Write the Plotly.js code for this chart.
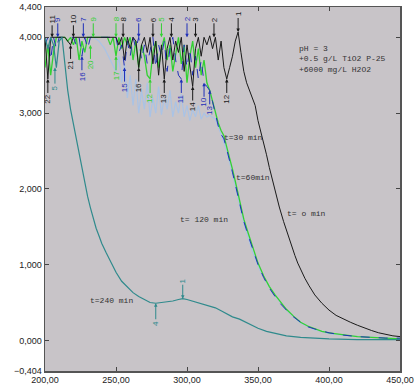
<!DOCTYPE html>
<html>
<head>
<meta charset="utf-8">
<script src="https://cdn.plot.ly/plotly-3.0.1.min.js"></script>
<style>html,body{margin:0;padding:0;background:#fff;}#chart{width:420px;height:390px;}</style>
</head>
<body>
<div id="chart"></div>
<script>
// ---- Data (wavelength nm, absorbance) ----
const wlNoisy = [200,202,204,206,208,210,212,214,216,218,220,222,224,226,228,230,232,234,236,238,240,242,244,246,248,250,252,254,256,258,260,262,264,266,268,270,272,274,276,278,280,282,284,286,288,290,292,294,296,298,300,302,304,306,308,310,312,314,316,318];
const wlTail = [320,322,324,326,328,330,332,334,336,338,340,343,346,350,354,358,362,366,370,375,380,385,390,395,400,410,420,430,440,450];

// t = 0 min (black)
const t0X = [200,202,204,206,210,214,218,220,224,230,236,240,244,248,
  250,252,254,256,258,260,262,264,266,268,270,272,274,276,278,280,282,284,286,288,290,292,294,296,298,300,302,304,306,308,310,312,314,316,318,320,322,324,326,328,330,332,334,336,338,
  340,342,344,346,348,350,352,354,356,358,360,362,365,368,370,373,376,378,380,383,386,390,395,400,405,410,415,420,425,430,435,440,445,450];
const t0Y = [4.0,3.45,4.0,4.0,4.0,4.0,3.9,4.0,4.0,4.0,4.0,4.0,4.0,4.0,
  4.0,3.9,4.0,3.7,4.0,3.85,4.0,3.95,3.6,3.9,4.0,3.8,4.0,3.65,3.95,3.5,3.9,3.45,3.85,4.0,3.7,3.95,3.8,4.0,3.55,3.9,3.6,3.35,3.85,4.0,3.75,4.0,3.9,4.02,3.85,4.0,3.7,3.95,3.6,3.45,3.6,3.75,3.95,4.07,3.8,
  3.55,3.4,3.3,3.22,3.1,2.9,2.76,2.62,2.45,2.28,2.12,1.97,1.76,1.57,1.45,1.28,1.12,1.02,0.93,0.82,0.72,0.6,0.49,0.4,0.33,0.28,0.24,0.2,0.16,0.13,0.1,0.08,0.06,0.05];

// t = 30 min (green)
const t30Noisy = [3.6,3.9,3.5,3.8,4.0,4.0,4.0,4.0,3.95,4.0, 3.9,4.0,3.7,3.95,3.8,4.0,4.0,4.0,4.0,4.0,
  4.0,4.0,4.0,3.9,4.0,3.75,4.0,3.85,4.0,3.9, 4.0,3.7,3.95,3.6,3.9,3.75,3.5,3.45,3.8,3.95,
  3.6,3.85,4.0,3.7,3.9,3.55,3.8,4.0,3.65,3.9, 3.4,3.75,3.95,3.6,3.85,3.5,3.7,3.4,3.3,3.15];
const t30Tail = [3.0,2.87,2.77,2.7,2.55,2.42,2.26,2.1,1.94,1.78,1.6,1.42,1.24,1.02,0.85,0.71,0.6,0.5,0.41,0.32,0.24,0.19,0.15,0.12,0.1,0.07,0.05,0.04,0.03,0.02];

// t = 60 min (dark blue)
const t60Noisy = [3.9,4.0,3.7,4.0,3.85,4.0,4.0,4.0,4.0,4.0, 4.0,3.9,4.0,3.75,4.0,3.85,4.0,4.0,4.0,4.0,
  4.0,4.0,4.0,4.0,3.95,4.0,3.8,3.9,3.6,3.95, 3.75,4.0,3.85,4.0,3.7,3.9,3.65,3.85,4.0,3.6,
  3.9,3.75,3.95,3.55,3.85,4.0,3.7,3.5,3.45,3.9, 3.6,3.85,3.5,3.75,3.45,3.7,3.4,3.35,3.3,3.15];
const t60Tail = [2.97,2.83,2.72,2.66,2.52,2.38,2.22,2.06,1.9,1.74,1.57,1.39,1.21,1.0,0.83,0.69,0.58,0.48,0.4,0.31,0.24,0.18,0.15,0.12,0.1,0.07,0.05,0.04,0.03,0.03];

// t = 120 min (light blue)
const t120X = [230,234,238,242,246,250,252,254,256,258,260,262,264,266,268,270,272,274,276,278,280,282,284,286,288,290,292,294,296,298,300,302,304,306,308,310,312,314,316,318,320,324,328,332,336,340,346,352,360,370,380,390,400,420,450];
const t120Y = [4.0,4.0,3.95,3.85,3.7,3.55,3.75,3.4,3.65,3.2,3.5,3.1,3.45,3.0,3.3,3.05,3.4,2.95,3.2,3.0,3.35,2.98,3.2,3.05,3.3,2.95,3.15,3.0,3.25,2.95,3.1,2.9,3.05,2.95,3.1,2.92,3.0,2.95,2.97,2.95,2.92,2.72,2.5,2.2,1.88,1.55,1.18,0.9,0.64,0.4,0.23,0.14,0.09,0.05,0.02];

// t = 240 min (teal)
const t240X = [200,202,204,206,208,210,212,214,216,218,220,222,224,226,228,230,232,234,236,238,240,243,246,250,254,258,262,266,270,274,278,282,286,290,294,297,300,304,308,312,316,320,324,328,332,337,340,345,350,356,362,370,380,390,400,420,450];
const t240Y = [4.0,3.85,4.0,3.9,3.6,3.95,4.0,3.6,3.3,3.05,2.85,2.68,2.5,2.3,2.1,1.9,1.75,1.6,1.48,1.38,1.28,1.16,1.05,0.9,0.78,0.7,0.63,0.58,0.54,0.5,0.49,0.5,0.51,0.52,0.54,0.55,0.54,0.52,0.49,0.47,0.45,0.43,0.39,0.35,0.31,0.28,0.25,0.2,0.16,0.12,0.09,0.06,0.04,0.03,0.02,0.01,0.01];

// peak-pick labels
const pkText  = ["11","9","10","7","9","8","8","6","6","5","4","2","3","2","1","1",
                 "22","5","21","16","20","17","15","16","12","13","11","14","10","13","12","4"];
const pkX     = [205,209,220,227,234,250,255,266,276,282,289,300,306,319,336,297,
                 202,207,218,226,232,250,256,266,274,284,296,304,312,316,328,278];
const pkY     = [4.0,4.0,4.0,4.0,4.0,4.0,4.0,4.0,4.0,4.0,4.0,4.0,4.0,4.0,4.07,0.55,
                 3.45,3.6,3.9,3.75,3.9,3.75,3.6,3.6,3.45,3.45,3.45,3.35,3.4,3.3,3.45,0.49];
const pkSeries= ["k","b","k","b","g","g","k","b","k","g","k","b","k","k","k","t",
                 "k","t","k","b","g","g","b","k","g","k","b","k","b","b","k","t"];
const pkDir   = [1,1,1,1,1,1,1,1,1,1,1,1,1,1,1,1,
                 -1,-1,-1,-1,-1,-1,-1,-1,-1,-1,-1,-1,-1,-1,-1,-1];

const curveLabels = ["t=30 min","t=60min","t= 120 min","t= o min","t=240 min"];
const curveLabX = [324.6,333.1,293.7,369,230.3];
const curveLabY = [2.68,2.15,1.6,1.68,0.53];
const conditions = ["pH = 3","+0.5 g/L TiO2 P-25","+6000 mg/L H2O2"];

const xTicks = [200,250,300,350,400,450];
const yTicks = [-0.404,0,1,2,3,4,4.4];

// ---- styles ----
const col = {k:"#1a1a1a", g:"#33d133", b:"#1f2fb8", l:"#a9c3e6", t:"#2f8a8c"};

const traces = [
  {x:t120X, y:t120Y, mode:"lines", line:{color:col.l, width:1.2}},
  {x:wlNoisy.concat(wlTail), y:t30Noisy.concat(t30Tail), mode:"lines", line:{color:col.g, width:1.3}},
  {x:wlNoisy.concat(wlTail), y:t60Noisy.concat(t60Tail), mode:"lines", line:{color:col.b, width:1, dash:"dash"}},
  {x:t0X, y:t0Y, mode:"lines", line:{color:col.k, width:1}},
  {x:t240X, y:t240Y, mode:"lines", line:{color:col.t, width:1.2}}
];

const mono = "Liberation Mono, DejaVu Sans Mono, monospace";
const anns = [];
for (let i = 0; i < pkText.length; i++) {
  const c = col[pkSeries[i]];
  anns.push({x:pkX[i], y:pkY[i], xref:"x", yref:"y", text:pkText[i], textangle:-90,
    showarrow:true, ax:0, ay:(pkDir[i] > 0 ? -18 : 20), arrowhead:2, arrowsize:0.7, arrowwidth:1,
    arrowcolor:c, standoff:0, font:{family:"Liberation Sans, Arial", size:8, color:c}});
}
for (let i = 0; i < curveLabels.length; i++) {
  anns.push({x:curveLabX[i], y:curveLabY[i], xref:"x", yref:"y", text:curveLabels[i],
    showarrow:false, xanchor:"left", yanchor:"middle", font:{family:mono, size:8, color:"#333"}});
}
anns.push({x:377.5, y:3.94, xref:"x", yref:"y", text:conditions.join("<br>"), align:"left",
  showarrow:false, xanchor:"left", yanchor:"top", font:{family:mono, size:8, color:"#333"}});

const layout = {
  width:420, height:390,
  margin:{l:45, r:20, t:7, b:19},
  paper_bgcolor:"#ffffff", plot_bgcolor:"#c8c4c8",
  showlegend:false,
  separators:",.",
  font:{family:"Liberation Sans, Arial", size:9, color:"#222"},
  xaxis:{range:[200,450], tickvals:xTicks, tickformat:".2f", ticks:"inside", ticklen:4, tickcolor:"#444",
    showline:true, linecolor:"#555", linewidth:1.5, mirror:"ticks", showgrid:false, zeroline:false,
    automargin:false, tickfont:{size:9, color:"#222"}},
  yaxis:{range:[-0.404,4.4], tickvals:yTicks, tickformat:".3f", ticks:"inside", ticklen:4, tickcolor:"#444",
    showline:true, linecolor:"#555", linewidth:1.5, mirror:"ticks", showgrid:false, zeroline:false,
    automargin:false, tickfont:{size:9, color:"#222"}},
  annotations:anns
};

Plotly.newPlot("chart", traces, layout, {displayModeBar:false, staticPlot:true});
</script>
</body>
</html>
